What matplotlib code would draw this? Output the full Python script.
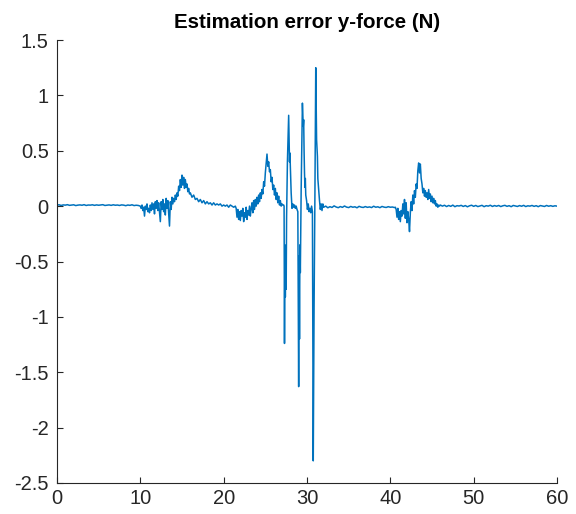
import numpy as np
import matplotlib
matplotlib.use("Agg")
import matplotlib.pyplot as plt

# Estimation error of the y-force (N), sampled in segments: (start time s, step s, values)
quiet_start = [
    0.010, 0.012, 0.006, 0.011, 0.009, 0.013, 0.007, 0.010, 0.012, 0.005,
    0.009, 0.011, 0.008, 0.013, 0.006, 0.010, 0.009, 0.012, 0.007, 0.011,
    0.008, 0.010, 0.013, 0.006, 0.009, 0.011, 0.007, 0.012, 0.008, 0.010,
    0.006, 0.011, 0.009, 0.004, 0.010, 0.007, 0.012, 0.005, 0.008, 0.006,
]
first_bump = [
    0.00, -0.02, 0.01, -0.04, -0.01, -0.09, 0.00, -0.03, 0.02, -0.05,
    -0.02, -0.06, 0.01, -0.04, 0.03, -0.03, 0.02, -0.07, 0.04, -0.02,
    0.05, -0.04, 0.03, -0.06, -0.14, 0.04, -0.03, 0.06, -0.05, 0.02,
    -0.08, 0.07, -0.02, 0.05, -0.06, -0.18, 0.04, -0.03, 0.08, 0.02,
    0.07, 0.04, 0.10, 0.06, 0.12, 0.09, 0.18, 0.14, 0.24, 0.17,
    0.28, 0.19, 0.26, 0.16, 0.24, 0.17, 0.20, 0.13, 0.16, 0.11,
]
first_decay = [
    0.12, 0.08, 0.10, 0.06, 0.07, 0.04, 0.06, 0.03, 0.05, 0.02,
    0.04, 0.02, 0.03, 0.01, 0.03, 0.01, 0.02, 0.01, 0.02, 0.00,
    0.01, 0.00, 0.01, -0.01, 0.01, 0.00, -0.01, 0.00,
]
second_bump = [
    -0.02, -0.10, -0.03, -0.12, -0.05, -0.13, -0.04, -0.09, -0.02, -0.14,
    -0.06, -0.10, -0.01, -0.12, -0.04, -0.08, 0.00, -0.09, -0.02, 0.03,
    -0.06, 0.05, -0.03, 0.06, 0.00, 0.08, 0.02, 0.10, 0.04, 0.12,
    0.07, 0.15, 0.11, 0.22, 0.18, 0.30, 0.38, 0.47, 0.36, 0.40,
    0.31, 0.33, 0.22, 0.26, 0.15, 0.19, 0.10, 0.16, 0.06, 0.12,
    0.03, 0.09, 0.01, 0.05, 0.00, 0.02, 0.01, 0.01,
]
# Impact oscillations, irregularly sampled
spike_time = [
    27.25, 27.30, 27.35, 27.40, 27.45, 27.50, 27.55, 27.65, 27.80, 27.90,
    27.95, 28.00, 28.05, 28.10, 28.20, 28.30, 28.40, 28.50, 28.60, 28.70,
    28.80, 28.90, 29.00, 29.05, 29.10, 29.15, 29.20, 29.30, 29.45, 29.55,
    29.60, 29.65, 29.70, 29.75, 29.80, 29.85, 29.95, 30.05, 30.15, 30.25,
    30.35, 30.45, 30.55, 30.65, 30.75, 30.85, 30.95, 31.05, 31.15, 31.25,
    31.30, 31.40, 31.50, 31.60, 31.70, 31.80, 31.90,
]
spike_error = [
    0.00, -1.24, -0.35, -0.82, -0.40, -0.75, -0.10, 0.40, 0.82, 0.40,
    0.48, 0.35, 0.20, 0.12, -0.02, 0.02, -0.01, 0.01, -0.02, 0.00,
    -0.03, -0.05, -1.63, -0.45, -1.20, -0.35, -0.60, 0.15, 0.93, 0.72,
    0.78, 0.50, 0.30, 0.17, 0.25, 0.10, 0.05, -0.03, 0.02, -0.05,
    -0.02, -0.06, 0.00, -0.05, -2.30, -0.90, 0.10, 1.25, 0.60, 0.45,
    0.25, 0.15, 0.05, -0.03, 0.02, -0.04, 0.02,
]
quiet_middle = [
    -0.010, 0.000, -0.015, -0.005, -0.012, 0.002, -0.008, -0.014, -0.004, -0.011,
    0.001, -0.009, -0.013, -0.003, -0.010, -0.006, -0.015, -0.002, -0.009, -0.012,
    -0.004, -0.011, -0.007, -0.013, -0.001, -0.010, -0.006, -0.014, -0.003, -0.009,
    -0.012, -0.005, -0.010, -0.008, -0.013,
]
third_bump = [
    -0.01, -0.03, -0.10, -0.02, -0.12, -0.05, -0.14, -0.04, -0.09, 0.02,
    -0.07, 0.06, -0.11, 0.03, -0.15, -0.05, -0.12, -0.23, -0.06, 0.04,
    -0.04, 0.10, 0.02, 0.14, 0.08, 0.20, 0.16, 0.32, 0.39, 0.30,
    0.38, 0.25, 0.20, 0.12, 0.16, 0.09, 0.14, 0.08, 0.12, 0.06,
    0.15, 0.07, 0.11, 0.04, 0.09, 0.03, 0.07, 0.02, 0.05, 0.00,
    0.02, -0.01, 0.01, 0.00, 0.01,
]
quiet_end = [
    0.000, 0.008, -0.004, 0.006, -0.002, 0.009, -0.005, 0.004, 0.001, 0.007,
    -0.003, 0.005, -0.006, 0.003, 0.008, -0.002, 0.006, -0.004, 0.002, 0.007,
    -0.005, 0.004, 0.000, 0.008, -0.003, 0.005, -0.001, 0.006, -0.004, 0.003,
    0.007, -0.002, 0.004, -0.005, 0.006, 0.001, -0.003, 0.005, -0.001, 0.007,
    -0.004, 0.003, 0.000, 0.006, -0.002, 0.004, -0.005, 0.005, 0.001, -0.003,
    0.006, -0.001, 0.004, -0.002, 0.003, 0.000,
]

x_ticks = [0, 10, 20, 30, 40, 50, 60]
y_ticks = [-2.5, -2, -1.5, -1, -0.5, 0, 0.5, 1, 1.5]
y_tick_labels = ["-2.5", "-2", "-1.5", "-1", "-0.5", "0", "0.5", "1", "1.5"]


def uniform(start, step, values):
    return start + step * np.arange(len(values)), np.asarray(values)


segments = [
    uniform(0.0, 0.25, quiet_start),
    uniform(10.0, 0.1, first_bump),
    uniform(16.0, 0.2, first_decay),
    uniform(21.5, 0.1, second_bump),
    (np.asarray(spike_time), np.asarray(spike_error)),
    uniform(32.0, 0.25, quiet_middle),
    uniform(40.6, 0.1, third_bump),
    uniform(46.25, 0.25, quiet_end),
]
t = np.concatenate([s[0] for s in segments])
err = np.concatenate([s[1] for s in segments])

plt.rcParams["font.family"] = ["Liberation Sans", "DejaVu Sans"]
axis_gray = (0.15, 0.15, 0.15)

fig = plt.figure(figsize=(5.76, 5.14), dpi=100)
ax = fig.add_axes([57 / 576, 1 - 483 / 514, 500 / 576, 443 / 514])
ax.plot(t, err, color="#0072BD", linewidth=1.1)

ax.set_xlim(0, 60)
ax.set_ylim(-2.5, 1.5)
ax.set_xticks(x_ticks)
ax.set_yticks(y_ticks)
ax.set_yticklabels(y_tick_labels)

for side in ("top", "right"):
    ax.spines[side].set_visible(False)
for side in ("left", "bottom"):
    ax.spines[side].set_color(axis_gray)
    ax.spines[side].set_linewidth(0.8)

ax.tick_params(axis="both", direction="in", length=4, width=0.8,
               color=axis_gray, labelcolor=axis_gray, labelsize=14.5)
ax.tick_params(axis="x", pad=4)
ax.tick_params(axis="y", pad=6)

ax.set_title("Estimation error y-force (N)", fontsize=14.8, fontweight="bold",
             color="black", pad=9)

fig.savefig("out.png", dpi=100)
